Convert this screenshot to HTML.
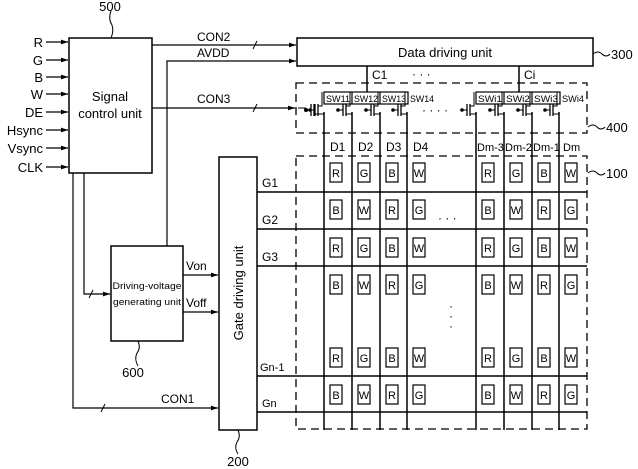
<!DOCTYPE html>
<html><head><style>body{margin:0;background:#fff}svg{display:block}text{font-family:"Liberation Sans",sans-serif;fill:#000}</style></head><body>
<svg width="638" height="469" viewBox="0 0 638 469" xmlns="http://www.w3.org/2000/svg">
<defs>
<marker id="a" markerWidth="6" markerHeight="6" refX="6" refY="3" orient="auto"><path d="M0,1 L6,3 L0,5z" fill="#000"/></marker>
<g id="col" stroke="#000" fill="none">
<line x1="0" y1="112" x2="0" y2="430" stroke-width="1.5"/>
<circle cx="-14" cy="110" r="1.3" fill="#000"/>
<line x1="-14" y1="110" x2="-9" y2="110" stroke-width="1"/>
<line x1="-9" y1="104" x2="-9" y2="116" stroke-width="1.3"/>
<line x1="-6" y1="104" x2="-6" y2="116" stroke-width="1.3"/>
<polyline points="-6,106 -2,106 -2,92" stroke-width="1"/>
<polyline points="-6,114 0,114" stroke-width="1"/>
<g stroke-width="1.2">
<rect x="6" y="163" width="12" height="19"/><rect x="6" y="200" width="12" height="19"/>
<rect x="6" y="238" width="12" height="19"/><rect x="6" y="275" width="12" height="19"/>
<rect x="6" y="348" width="12" height="19"/><rect x="6" y="385" width="12" height="19"/>
</g>
</g>
</defs>
<g stroke="#000" fill="none" stroke-width="1.5">
<rect x="69" y="38" width="83" height="135"/>
<rect x="297" y="38" width="296" height="28"/>
<rect x="219" y="157" width="38" height="273"/>
<rect x="111" y="246" width="72" height="95"/>
<g stroke-dasharray="8,5" stroke-width="1.3">
<rect x="296" y="83" width="291" height="50"/>
<rect x="296" y="156" width="291" height="273"/>
</g>
<g marker-end="url(#a)" stroke-width="1.2">
<line x1="46" y1="42" x2="68" y2="42"/><line x1="46" y1="60" x2="68" y2="60"/>
<line x1="46" y1="77" x2="68" y2="77"/><line x1="46" y1="94" x2="68" y2="94"/>
<line x1="46" y1="112" x2="68" y2="112"/><line x1="46" y1="130" x2="68" y2="130"/>
<line x1="46" y1="148" x2="68" y2="148"/><line x1="46" y1="167" x2="68" y2="167"/>
<line x1="152" y1="45" x2="296" y2="45"/>
<polyline points="167,246 167,61 296,61"/>
<line x1="152" y1="108" x2="295" y2="108"/>
<polyline points="73,173 73,408 218,408"/>
<polyline points="84,173 84,294 110,294"/>
<line x1="183" y1="275" x2="218" y2="275"/>
<line x1="183" y1="312" x2="218" y2="312"/>
</g>
<g stroke-width="1"><line x1="253" y1="49" x2="257" y2="41"/><line x1="253" y1="112" x2="257" y2="104"/><line x1="101" y1="412" x2="105" y2="404"/><line x1="89" y1="298" x2="93" y2="290"/></g>
<path d="M111,11 q-3,8 1,14 q2,6 -1,13" stroke-width="1"/>
<path d="M138,341 q3,7 -1,12 q-3,6 1,13" stroke-width="1"/>
<path d="M238,430 q3,7 -1,12 q-3,6 1,12" stroke-width="1"/>
<path d="M593,54 q5,-4 9,0 q4,4 8,0" stroke-width="1"/>
<path d="M588,127 q5,-4 9,0 q4,4 8,0" stroke-width="1"/>
<path d="M588,173 q5,-4 9,0 q4,4 8,0" stroke-width="1"/>
<line x1="257" y1="192" x2="587" y2="192"/><line x1="257" y1="229" x2="587" y2="229"/>
<line x1="257" y1="266" x2="587" y2="266"/><line x1="257" y1="376" x2="587" y2="376"/>
<line x1="257" y1="412" x2="587" y2="412"/>
<line x1="367" y1="66" x2="367" y2="92"/><line x1="519" y1="66" x2="519" y2="92"/>
<g stroke-width="1.2">
<rect x="324" y="92" width="84" height="12"/><line x1="352" y1="92" x2="352" y2="104"/><line x1="380" y1="92" x2="380" y2="104"/>
<rect x="476" y="92" width="84" height="12"/><line x1="504" y1="92" x2="504" y2="104"/><line x1="532" y1="92" x2="532" y2="104"/>
</g>
<line x1="298" y1="108" x2="306" y2="108" stroke-width="1"/>
<circle cx="306" cy="110" r="1.3" fill="#000"/>
<line x1="306" y1="110" x2="311" y2="110" stroke-width="1"/>
<line x1="311" y1="104" x2="311" y2="116" stroke-width="1.3"/><line x1="314" y1="104" x2="314" y2="116" stroke-width="1.3"/>
<polyline points="314,114 324,114" stroke-width="1"/>
</g>
<use href="#col" x="324"/><use href="#col" x="352"/><use href="#col" x="380"/><use href="#col" x="407"/>
<use href="#col" x="476"/><use href="#col" x="504"/><use href="#col" x="532"/><use href="#col" x="559"/>
<g font-size="9.5">
<text x="326" y="102" textLength="24" lengthAdjust="spacingAndGlyphs">SW11</text><text x="354" y="102" textLength="24" lengthAdjust="spacingAndGlyphs">SW12</text><text x="382" y="102" textLength="24" lengthAdjust="spacingAndGlyphs">SW13</text><text x="410" y="102" textLength="24" lengthAdjust="spacingAndGlyphs">SW14</text>
<text x="478" y="102" textLength="24" lengthAdjust="spacingAndGlyphs">SWi1</text><text x="506" y="102" textLength="24" lengthAdjust="spacingAndGlyphs">SWi2</text><text x="534" y="102" textLength="24" lengthAdjust="spacingAndGlyphs">SWi3</text><text x="562" y="102" textLength="22" lengthAdjust="spacingAndGlyphs">SWi4</text>
</g>
<g font-size="12">
<text x="330" y="151">D1</text><text x="358" y="151">D2</text><text x="386" y="151">D3</text><text x="413" y="151">D4</text>
</g>
<g font-size="11">
<text x="477" y="151">Dm-3</text><text x="505" y="151">Dm-2</text><text x="533" y="151">Dm-1</text><text x="563" y="151">Dm</text>
</g>
<g font-size="11" text-anchor="middle">
<text x="336" y="177">R</text><text x="364" y="177">G</text><text x="392" y="177">B</text><text x="419" y="177">W</text><text x="488" y="177">R</text><text x="516" y="177">G</text><text x="544" y="177">B</text><text x="571" y="177">W</text>
<text x="336" y="214">B</text><text x="364" y="214">W</text><text x="392" y="214">R</text><text x="419" y="214">G</text><text x="488" y="214">B</text><text x="516" y="214">W</text><text x="544" y="214">R</text><text x="571" y="214">G</text>
<text x="336" y="252">R</text><text x="364" y="252">G</text><text x="392" y="252">B</text><text x="419" y="252">W</text><text x="488" y="252">R</text><text x="516" y="252">G</text><text x="544" y="252">B</text><text x="571" y="252">W</text>
<text x="336" y="289">B</text><text x="364" y="289">W</text><text x="392" y="289">R</text><text x="419" y="289">G</text><text x="488" y="289">B</text><text x="516" y="289">W</text><text x="544" y="289">R</text><text x="571" y="289">G</text>
<text x="336" y="362">R</text><text x="364" y="362">G</text><text x="392" y="362">B</text><text x="419" y="362">W</text><text x="488" y="362">R</text><text x="516" y="362">G</text><text x="544" y="362">B</text><text x="571" y="362">W</text>
<text x="336" y="399">B</text><text x="364" y="399">W</text><text x="392" y="399">R</text><text x="419" y="399">G</text><text x="488" y="399">B</text><text x="516" y="399">W</text><text x="544" y="399">R</text><text x="571" y="399">G</text>
</g>
<text x="43" y="47" font-size="13" text-anchor="end">R</text>
<text x="43" y="65" font-size="13" text-anchor="end">G</text>
<text x="43" y="82" font-size="13" text-anchor="end">B</text>
<text x="43" y="99" font-size="13" text-anchor="end">W</text>
<text x="43" y="117" font-size="13" text-anchor="end">DE</text>
<text x="43" y="135" font-size="13" text-anchor="end">Hsync</text>
<text x="43" y="153" font-size="13" text-anchor="end">Vsync</text>
<text x="43" y="172" font-size="13" text-anchor="end">CLK</text>
<text x="110" y="11" font-size="13" text-anchor="middle">500</text>
<text x="110" y="101" font-size="13" text-anchor="middle">Signal</text>
<text x="110" y="118" font-size="13" text-anchor="middle">control unit</text>
<text x="197" y="41" font-size="12">CON2</text>
<text x="197" y="57" font-size="12">AVDD</text>
<text x="197" y="103" font-size="12">CON3</text>
<text x="445" y="57" font-size="13" text-anchor="middle">Data driving unit</text>
<text x="611" y="59" font-size="13">300</text>
<text x="606" y="132" font-size="13">400</text>
<text x="606" y="178" font-size="13">100</text>
<text x="372" y="79" font-size="12">C1</text>
<text x="524" y="79" font-size="12">Ci</text>
<text x="412" y="78" font-size="12">· · ·</text>
<text x="422" y="114" font-size="12">· · · ·</text>
<text x="147" y="289" font-size="9" text-anchor="middle" textLength="69" lengthAdjust="spacingAndGlyphs">Driving-voltage</text>
<text x="147" y="305" font-size="9" text-anchor="middle" textLength="68" lengthAdjust="spacingAndGlyphs">generating unit</text>
<text x="186" y="270" font-size="12">Von</text>
<text x="186" y="307" font-size="12">Voff</text>
<text x="133" y="377" font-size="13" text-anchor="middle">600</text>
<text x="161" y="403" font-size="12">CON1</text>
<text x="238" y="466" font-size="13" text-anchor="middle">200</text>
<text transform="translate(243,293) rotate(-90)" font-size="13" text-anchor="middle">Gate driving unit</text>
<text x="262" y="187" font-size="12">G1</text>
<text x="262" y="224" font-size="12">G2</text>
<text x="262" y="261" font-size="12">G3</text>
<text x="260" y="371" font-size="11">Gn-1</text>
<text x="262" y="407" font-size="11">Gn</text>
<text x="438" y="222" font-size="12">· · ·</text>
<text x="449" y="310" font-size="12">·</text><text x="449" y="320" font-size="12">·</text><text x="449" y="330" font-size="12">·</text>
</svg>
</body></html>
